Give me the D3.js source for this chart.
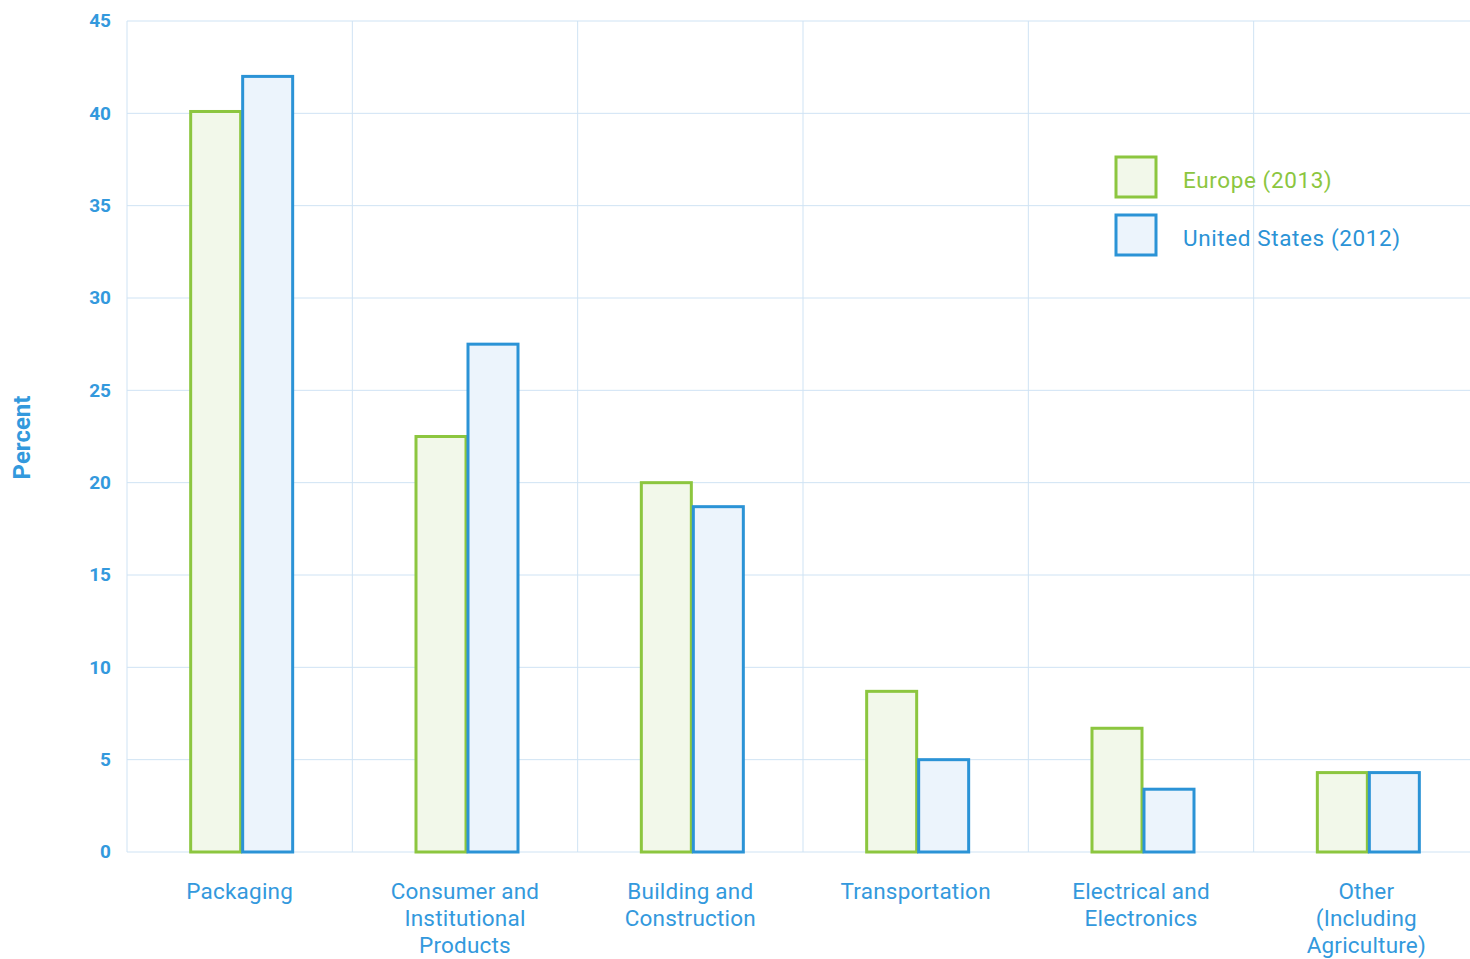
<!DOCTYPE html>
<html><head><meta charset="utf-8">
<script src="https://cdn.jsdelivr.net/npm/d3@7"></script>
<style>
html,body{margin:0;padding:0;background:#fff;}
svg{display:block;font-family:Roboto, "Open Sans", sans-serif;}
</style></head>
<body>
<svg id="chart" width="1470" height="959"></svg>
<script>
const categories = [
  ["Packaging"],
  ["Consumer and", "Institutional", "Products"],
  ["Building and", "Construction"],
  ["Transportation"],
  ["Electrical and", "Electronics"],
  ["Other", "(Including", "Agriculture)"]
];
const europe2013 = [40.1, 22.5, 20.0, 8.7, 6.7, 4.3];
const us2012 = [42.0, 27.5, 18.7, 5.0, 3.4, 4.3];
const seriesNames = ["Europe (2013)", "United States (2012)"];
const yTicks = [0, 5, 10, 15, 20, 25, 30, 35, 40, 45];

const green = "#8cc63f", greenFill = "#f2f8ea";
const blue = "#2b93d6", blueFill = "#ecf4fc";
const grid = "#cfe3f4";
const textBlue = "#3399dd";

const svg = d3.select("#chart");
const m = {left: 127, top: 21, right: 1479, bottom: 852};

const x = d3.scaleBand().domain(d3.range(categories.length)).range([m.left, m.right]);
const y = d3.scaleLinear().domain([0, 45]).range([m.bottom, m.top]);
const barW = 50;

// horizontal grid
svg.append("g").selectAll("line").data(yTicks).join("line")
  .attr("x1", m.left).attr("x2", m.right)
  .attr("y1", d => y(d)).attr("y2", d => y(d))
  .attr("stroke", grid).attr("stroke-width", 1);
// vertical grid
svg.append("g").selectAll("line").data(d3.range(categories.length + 1)).join("line")
  .attr("x1", d => d < categories.length ? x(d) : m.right)
  .attr("x2", d => d < categories.length ? x(d) : m.right)
  .attr("y1", m.top).attr("y2", m.bottom)
  .attr("stroke", grid).attr("stroke-width", 1);

// y axis labels
const yAxis = d3.axisLeft(y).tickValues(yTicks).tickSize(0).tickPadding(16);
const gy = svg.append("g").attr("transform", `translate(${m.left},0)`).call(yAxis);
gy.select(".domain").remove();
gy.selectAll("text").attr("fill", textBlue).attr("font-size", 19).attr("font-weight", 700)
  .attr("font-family", "Roboto, sans-serif").attr("dy", "0.3em");

svg.append("text")
  .attr("transform", `translate(30,${(m.top + m.bottom) / 2 + 1}) rotate(-90)`)
  .attr("text-anchor", "middle").attr("fill", textBlue)
  .attr("font-size", 24).attr("font-weight", 700).text("Percent");

// bars
const bars = svg.append("g");
categories.forEach((c, i) => {
  const cx = x(i) + x.bandwidth() / 2 + 2;
  bars.append("rect")
    .attr("x", cx - barW - 1).attr("y", y(europe2013[i]))
    .attr("width", barW).attr("height", y(0) - y(europe2013[i]))
    .attr("fill", greenFill).attr("stroke", green).attr("stroke-width", 3);
  bars.append("rect")
    .attr("x", cx + 1).attr("y", y(us2012[i]))
    .attr("width", barW).attr("height", y(0) - y(us2012[i]))
    .attr("fill", blueFill).attr("stroke", blue).attr("stroke-width", 3);
});

// x labels
const xl = svg.append("g");
categories.forEach((lines, i) => {
  const t = xl.append("text").attr("text-anchor", "middle")
    .attr("fill", textBlue).attr("font-size", 22.5).attr("letter-spacing", 0.2)
    .attr("x", x(i) + x.bandwidth() / 2).attr("y", 899);
  lines.forEach((ln, j) => {
    t.append("tspan").attr("x", x(i) + x.bandwidth() / 2).attr("dy", j === 0 ? 0 : 27).text(ln);
  });
});

// legend
const leg = svg.append("g");
const legColors = [[green, greenFill], [blue, blueFill]];
seriesNames.forEach((n, i) => {
  const yy = 157 + i * 58;
  leg.append("rect").attr("x", 1116).attr("y", yy).attr("width", 40).attr("height", 40)
    .attr("fill", legColors[i][1]).attr("stroke", legColors[i][0]).attr("stroke-width", 3);
  leg.append("text").attr("x", 1183).attr("y", yy + 31)
    .attr("fill", legColors[i][0]).attr("font-size", 22.5).attr("letter-spacing", 0.6).text(n);
});
</script>
</body></html>
